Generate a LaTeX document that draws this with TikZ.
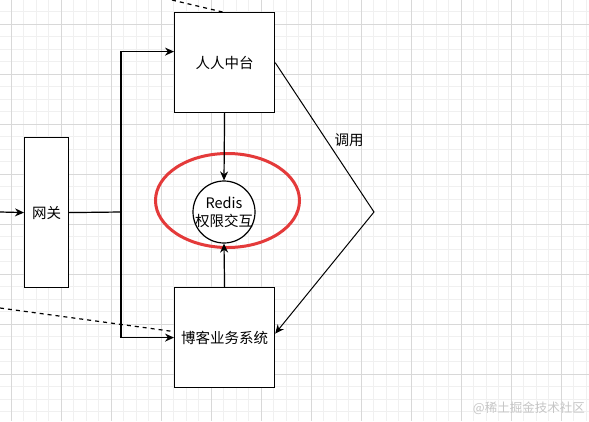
\documentclass[tikz,border=0pt]{standalone}
\usepackage{fontspec}
\newfontfamily\cjk{Noto Sans CJK SC}
\usetikzlibrary{positioning}
\usetikzlibrary{arrows.meta}
\definecolor{gridmajor}{RGB}{216,216,216}
\definecolor{gridminor}{RGB}{240,240,240}
\definecolor{markred}{RGB}{228,58,58}

\begin{document}
\begin{tikzpicture}[x=1pt,y=-1pt]

\tikzset{box/.style={
		draw,
		line width=1.2pt,
		fill=white,
		anchor=north west,
		inner sep=0pt,
		font=\cjk\fontsize{14.5}{17}\selectfont
	},
	link/.style={line width=1.2pt, -{Stealth[length=9pt,width=8pt]}},
	label text/.style={font=\cjk\fontsize{14.5}{18}\selectfont, align=center, inner sep=0pt}
}
\useasboundingbox (0,0) rectangle (589,421);
% grid
\begin{scope}
	\clip (0,0) rectangle (589,421);
	\fill[white] (0,0) rectangle (589,421);
	\foreach \x in {-1.5,11,...,590}
		\draw[gridminor, line width=0.8pt] (\x,0) -- (\x,421);
	\foreach \y in {-1,11.5,...,422}
		\draw[gridminor, line width=0.8pt] (0,\y) -- (589,\y);
	\foreach \x in {11,61,...,561}
		\draw[gridmajor, line width=0.9pt] (\x,0) -- (\x,421);
	\foreach \y in {24,74,...,374}
		\draw[gridmajor, line width=0.9pt] (0,\y) -- (589,\y);
\end{scope}

\node[box, minimum width=100pt, minimum height=100pt] (renren) at (174,12) {人人中台};
\node[box, minimum width=44pt, minimum height=150pt] (gateway) at (24,137) {网关};
\node[box, minimum width=100pt, minimum height=100pt] (blog) at (174,287) {博客业务系统};
\node[draw, circle, line width=1.2pt, fill=white, minimum size=62pt, inner sep=0pt] (redis) at (224,212) {};
\node[label text] (redistext) at (redis) {Redis\\权限交互};

% red mark
\draw[markred, line width=3pt] (227.5,200.5) ellipse [x radius=72, y radius=47];

\coordinate (entry) at (0,212);
\coordinate (split) at (121,212);
\coordinate (turn) at (374,212);
\coordinate (dashtop) at (172,0);
\coordinate (dashleft) at (0,308);

\draw[link] (renren.south) -- (redis.north);
\draw[link] (blog.north) -- (redis.south);
\draw[link] (entry) -- (gateway.west);
\draw[line width=1.2pt] (gateway.east) -- (split);
\draw[link] (split) |- ([yshift=11pt]renren.west);
\draw[link] (split) |- (blog.west);
\draw[link, line width=1pt] (renren.east) -- (turn) -- ([yshift=4pt]blog.east);
\node[label text] (call) at (349,140) {调用};

\draw[line width=1.2pt, dash pattern=on 4pt off 4pt] (dashtop) -- ([xshift=-2pt]renren.north);
\draw[line width=1.2pt, dash pattern=on 4pt off 4pt] (dashleft) -- ([yshift=6pt]blog.west);

\node[text=gray!45, font=\cjk\fontsize{12.5}{14}\selectfont, anchor=east, inner sep=0pt] (mark) at (585,408) {@稀土掘金技术社区};
\end{tikzpicture}
\end{document}
